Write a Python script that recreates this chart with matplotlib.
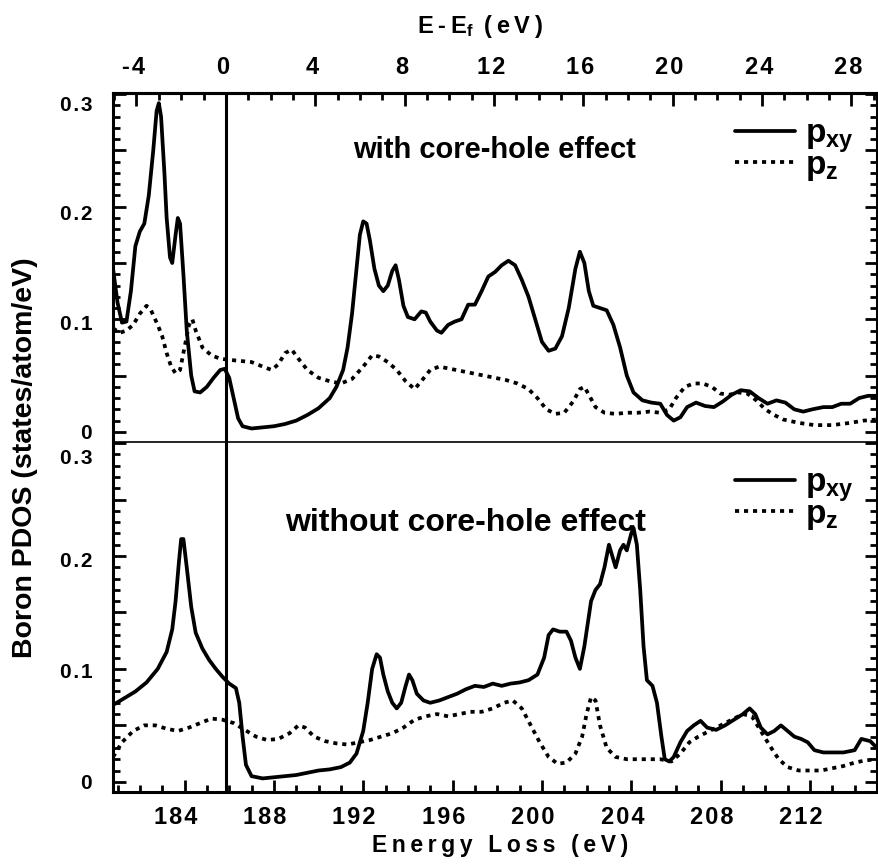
import matplotlib
matplotlib.use("Agg")
import matplotlib.pyplot as plt
from matplotlib.ticker import MultipleLocator, FixedLocator, FuncFormatter
from matplotlib.transforms import ScaledTranslation
from matplotlib.lines import Line2D

plt.rcParams['font.family'] = ['Liberation Sans', 'DejaVu Sans']
plt.rcParams['font.weight'] = 'bold'
plt.rcParams['axes.labelweight'] = 'bold'
plt.rcParams['mathtext.fontset'] = 'custom'
plt.rcParams['mathtext.rm'] = 'Liberation Sans:bold'
plt.rcParams['mathtext.bf'] = 'Liberation Sans:bold'
plt.rcParams['mathtext.it'] = 'Liberation Sans:bold'

# Fermi level position on the energy-loss scale
E_FERMI = 185.85

# with core-hole effect, p_xy
top_pxy_x = [180.8, 181.0, 181.2, 181.4, 181.6, 181.8, 182.0, 182.2, 182.4, 182.6, 182.75, 182.85, 182.95,
             183.1, 183.2, 183.35, 183.45, 183.6, 183.7, 183.8, 183.95, 184.1, 184.3, 184.45, 184.7, 185.0,
             185.3, 185.6, 185.8, 186.0, 186.2, 186.4, 186.6, 187.0, 187.5, 188.0, 188.5, 189.0, 189.5,
             190.0, 190.5, 190.8, 191.1, 191.3, 191.5, 191.7, 191.85, 192.0, 192.15, 192.3, 192.5, 192.7,
             192.9, 193.1, 193.3, 193.45, 193.6, 193.8, 194.0, 194.3, 194.6, 194.8, 195.0, 195.3, 195.5,
             195.8, 196.1, 196.4, 196.7, 197.0, 197.3, 197.6, 197.9, 198.2, 198.5, 198.8, 199.1, 199.4,
             199.7, 200.0, 200.3, 200.6, 200.9, 201.2, 201.5, 201.7, 201.9, 202.1, 202.3, 202.6, 202.9,
             203.2, 203.5, 203.8, 204.1, 204.5, 204.9, 205.3, 205.6, 205.9, 206.2, 206.5, 206.9, 207.3,
             207.7, 208.1, 208.5, 208.9, 209.3, 209.7, 210.1, 210.5, 210.9, 211.3, 211.7, 212.1, 212.6,
             213.0, 213.4, 213.8, 214.2, 214.6, 215.0]
top_pxy_y = [0.145, 0.115, 0.097, 0.098, 0.125, 0.165, 0.178, 0.185, 0.21, 0.25, 0.285, 0.292, 0.28,
             0.23, 0.19, 0.155, 0.15, 0.175, 0.19, 0.185, 0.14, 0.09, 0.05, 0.036, 0.035, 0.04,
             0.048, 0.055, 0.056, 0.048, 0.03, 0.012, 0.005, 0.003, 0.004, 0.005, 0.007, 0.01, 0.015,
             0.021, 0.03, 0.04, 0.055, 0.075, 0.105, 0.145, 0.175, 0.187, 0.185, 0.17, 0.145, 0.13,
             0.125, 0.13, 0.143, 0.148, 0.135, 0.112, 0.102, 0.1, 0.107, 0.106, 0.098, 0.09, 0.088,
             0.095, 0.098, 0.1, 0.113, 0.113, 0.125, 0.138, 0.142, 0.148, 0.152, 0.148, 0.135, 0.12,
             0.1, 0.08, 0.072, 0.074, 0.085, 0.11, 0.145, 0.16, 0.15, 0.125, 0.112, 0.11, 0.108,
             0.095, 0.075, 0.05, 0.035, 0.028, 0.026, 0.025, 0.015, 0.01, 0.013, 0.022, 0.026, 0.023,
             0.022, 0.027, 0.033, 0.037, 0.036, 0.03, 0.025, 0.028, 0.026, 0.02, 0.018, 0.02, 0.022,
             0.022, 0.025, 0.025, 0.03, 0.032, 0.032]

# with core-hole effect, p_z
top_pz_x = [180.8, 181.1, 181.4, 181.7, 182.0, 182.3, 182.5, 182.8, 183.0, 183.2, 183.4, 183.6, 183.8,
            184.0, 184.2, 184.35, 184.5, 184.8, 185.2, 185.6, 186.0, 186.5, 187.0, 187.5, 187.9, 188.2,
            188.5, 188.8, 189.1, 189.5, 190.0, 190.5, 191.0, 191.5, 192.0, 192.4, 192.7, 193.1, 193.5,
            193.9, 194.3, 194.6, 195.0, 195.4, 195.9, 196.4, 196.9, 197.4, 197.9, 198.4, 198.9, 199.4,
            199.8, 200.2, 200.6, 201.0, 201.4, 201.7, 201.9, 202.1, 202.4, 202.8, 203.3, 203.8, 204.3,
            204.8, 205.3, 205.7, 206.0, 206.4, 206.8, 207.2, 207.6, 208.0, 208.4, 208.8, 209.2, 209.6,
            210.0, 210.4, 210.8, 211.5, 212.2, 213.0, 213.8, 214.4, 215.0]
top_pz_y = [0.092, 0.088, 0.09, 0.095, 0.105, 0.112, 0.108, 0.095, 0.085, 0.07, 0.058, 0.052, 0.055,
            0.075, 0.095, 0.1, 0.09, 0.075, 0.068, 0.065, 0.064, 0.063, 0.062, 0.058, 0.055, 0.06,
            0.07, 0.073, 0.065, 0.055, 0.048, 0.045, 0.043, 0.047, 0.058, 0.068, 0.067, 0.062, 0.055,
            0.045, 0.038, 0.045, 0.055, 0.058, 0.056, 0.054, 0.052, 0.05, 0.048, 0.046, 0.043, 0.038,
            0.03, 0.02, 0.016, 0.017, 0.027, 0.038, 0.04, 0.033, 0.022, 0.017, 0.016, 0.017, 0.017,
            0.018, 0.017, 0.02, 0.03, 0.04, 0.043, 0.043, 0.04, 0.034, 0.033, 0.035, 0.034, 0.028,
            0.02, 0.015, 0.011, 0.008, 0.006, 0.006, 0.008, 0.01, 0.011]

# without core-hole effect, p_xy
bot_pxy_x = [180.8, 181.3, 181.8, 182.3, 182.8, 183.2, 183.45, 183.6, 183.75, 183.85, 183.95, 184.1, 184.3,
             184.5, 184.8, 185.1, 185.4, 185.7, 186.0, 186.3, 186.45, 186.6, 186.75, 187.0, 187.5, 188.0,
             188.5, 189.0, 189.5, 190.0, 190.5, 191.0, 191.4, 191.7, 192.0, 192.2, 192.4, 192.6, 192.75,
             192.9, 193.1, 193.3, 193.5, 193.7, 193.9, 194.05, 194.2, 194.4, 194.7, 195.0, 195.4, 195.8,
             196.2, 196.6, 197.0, 197.4, 197.8, 198.2, 198.6, 199.0, 199.4, 199.8, 200.1, 200.3, 200.5,
             200.8, 201.1, 201.3, 201.5, 201.7, 201.9, 202.2, 202.4, 202.6, 202.8, 203.0, 203.15, 203.3,
             203.5, 203.65, 203.8, 204.0, 204.1, 204.25, 204.4, 204.55, 204.7, 204.95, 205.15, 205.35,
             205.5, 205.7, 205.9, 206.2, 206.5, 206.8, 207.1, 207.4, 207.8, 208.2, 208.6, 209.0, 209.3,
             209.55, 209.8, 210.1, 210.4, 210.7, 211.0, 211.3, 211.6, 211.9, 212.2, 212.6, 213.0, 213.5,
             214.0, 214.3, 214.7, 215.0]
bot_pxy_y = [0.068, 0.074, 0.08, 0.088, 0.1, 0.115, 0.135, 0.16, 0.195, 0.215, 0.215, 0.19, 0.155,
             0.132, 0.118, 0.108, 0.1, 0.093, 0.087, 0.083, 0.07, 0.04, 0.015, 0.005, 0.003, 0.004,
             0.005, 0.006, 0.008, 0.01, 0.011, 0.013, 0.017, 0.025, 0.045, 0.07, 0.1, 0.113, 0.11,
             0.095, 0.08, 0.07, 0.065, 0.07, 0.085, 0.095, 0.09, 0.078, 0.072, 0.07, 0.072, 0.075,
             0.078, 0.082, 0.085, 0.084, 0.087, 0.085, 0.087, 0.088, 0.09, 0.095, 0.11, 0.13, 0.135,
             0.133, 0.133, 0.125, 0.11, 0.1, 0.12, 0.16, 0.17, 0.175, 0.19, 0.21, 0.2, 0.19,
             0.205, 0.21, 0.205, 0.22, 0.225, 0.21, 0.17, 0.12, 0.09, 0.085, 0.07, 0.04,
             0.02, 0.018, 0.022, 0.035, 0.045, 0.05, 0.054, 0.048, 0.046, 0.05, 0.055, 0.06, 0.065,
             0.06, 0.048, 0.042, 0.045, 0.05, 0.045, 0.04, 0.038, 0.035, 0.028, 0.026, 0.026, 0.026,
             0.028, 0.038, 0.036, 0.03]

# without core-hole effect, p_z
bot_pz_x = [180.8, 181.2, 181.7, 182.2, 182.7, 183.2, 183.7, 184.2, 184.7, 185.2, 185.7, 186.2, 186.7,
            187.2, 187.7, 188.2, 188.7, 189.1, 189.4, 189.8, 190.3, 190.8, 191.3, 191.8, 192.3, 192.8,
            193.3, 193.8, 194.3, 194.8, 195.3, 195.8, 196.3, 196.8, 197.3, 197.8, 198.3, 198.7, 199.1,
            199.5, 199.9, 200.3, 200.7, 201.1, 201.5, 201.8, 202.0, 202.2, 202.4, 202.6, 202.9, 203.3,
            203.8, 204.3, 204.8, 205.3, 205.8, 206.2, 206.6, 207.0, 207.5, 208.0, 208.5, 209.0, 209.4,
            209.8, 210.2, 210.6, 211.0, 211.5, 212.0, 212.5, 213.0, 213.5, 214.0, 214.5, 215.0]
bot_pz_y = [0.022, 0.035, 0.045, 0.05, 0.05, 0.047, 0.045, 0.048, 0.052, 0.056, 0.055, 0.052, 0.046,
            0.04, 0.037, 0.038, 0.043, 0.05, 0.048, 0.04, 0.036, 0.034, 0.033, 0.035, 0.037, 0.04,
            0.043, 0.048, 0.055, 0.058, 0.06, 0.058, 0.06, 0.062, 0.062, 0.065, 0.07, 0.072, 0.065,
            0.05, 0.035, 0.022, 0.016, 0.017, 0.025, 0.04, 0.06, 0.075, 0.072, 0.05, 0.03, 0.022,
            0.02, 0.02, 0.02, 0.02, 0.018, 0.025, 0.035, 0.04, 0.045, 0.05, 0.055, 0.06, 0.058,
            0.045, 0.032, 0.02, 0.013, 0.01, 0.01, 0.01, 0.012, 0.014, 0.017, 0.019, 0.02]

panel_titles = ['with core-hole effect', 'without core-hole effect']
legend_labels = [r'$\mathbf{p}_{\mathbf{xy}}$', r'$\mathbf{p}_{\mathbf{z}}$']
y_ticks = [0.0, 0.05, 0.1, 0.15, 0.2, 0.25, 0.3]
loss_ticks = [184, 188, 192, 196, 200, 204, 208, 212]
ef_ticks = [-4, 0, 4, 8, 12, 16, 20, 24, 28]

XLIM = (180.8, 215.0)
YLIM = (-0.009, 0.301)


def spaced(s, sep='\u2009'):
    # wide letter spacing like the original figure
    return sep.join(s)


def x_fmt(v, pos):
    return spaced('%d' % round(v), '\u200a')


def y_fmt(v, pos):
    k = round(v * 100)
    if k % 10 != 0:
        return ''
    if k == 0:
        return '0'
    return spaced('%.1f' % v, '\u200a')


def nudge(text, fig, dx_px, dy_px):
    # move a tick label by some pixels (positive dy = down)
    off = ScaledTranslation(dx_px / fig.dpi, -dy_px / fig.dpi, fig.dpi_scale_trans)
    text.set_transform(text.get_transform() + off)


fig = plt.figure(figsize=(8.79, 8.66), dpi=100)
left, right = 0.1286, 0.9977
ax_top = fig.add_axes([left, 0.4896, right - left, 0.8926 - 0.4896])
ax_bot = fig.add_axes([left, 0.0855, right - left, 0.4896 - 0.0855])

solid_kw = dict(color='black', lw=2.7, solid_capstyle='round', solid_joinstyle='round')
dot_kw = dict(color='black', lw=2.7, linestyle=(0, (1.1, 1.3)), dash_capstyle='butt')

ax_top.plot(top_pxy_x, top_pxy_y, **solid_kw)
ax_top.plot(top_pz_x, top_pz_y, **dot_kw)
ax_bot.plot(bot_pxy_x, bot_pxy_y, **solid_kw)
ax_bot.plot(bot_pz_x, bot_pz_y, **dot_kw)

for ax, title, ty, tx, fs in [(ax_top, panel_titles[0], 0.25, 197.9, 21),
                              (ax_bot, panel_titles[1], 0.229, 196.6, 23)]:
    ax.set_xlim(*XLIM)
    ax.set_ylim(*YLIM)
    ax.axvline(E_FERMI, color='black', lw=2.2)
    ax.text(tx, ty, title, fontsize=fs, fontweight='bold', ha='center', va='center')
    ax.yaxis.set_major_locator(FixedLocator(y_ticks))
    ax.yaxis.set_minor_locator(MultipleLocator(0.01))
    ax.yaxis.set_major_formatter(FuncFormatter(y_fmt))
    ax.xaxis.set_major_locator(FixedLocator(loss_ticks))
    ax.xaxis.set_minor_locator(MultipleLocator(1))
    ax.tick_params(axis='y', which='both', direction='in', left=True, right=True,
                   labelsize=15, pad=15, width=2)
    ax.tick_params(axis='y', which='major', length=9)
    ax.tick_params(axis='y', which='minor', length=5)
    for s in ax.spines.values():
        s.set_linewidth(2.2)
    handles = [Line2D([], [], **solid_kw), Line2D([], [], **dot_kw)]
    ax.legend(handles, legend_labels, loc='upper right', bbox_to_anchor=(0.995, 0.985),
              frameon=False, fontsize=24, handlelength=1.8, handletextpad=0.3,
              labelspacing=-0.15, borderaxespad=0.2)

# top panel: no bottom ticks, secondary E-Ef axis on top
ax_top.spines['bottom'].set_visible(False)
ax_top.tick_params(axis='x', which='both', bottom=False, top=False, labelbottom=False)
sec = ax_top.secondary_xaxis('top', functions=(lambda e: e - E_FERMI, lambda e: e + E_FERMI))
sec.xaxis.set_major_locator(FixedLocator(ef_ticks))
sec.xaxis.set_minor_locator(MultipleLocator(1))
sec.xaxis.set_major_formatter(FuncFormatter(x_fmt))
sec.tick_params(which='both', direction='in', width=2, labelsize=17, pad=10)
sec.tick_params(which='major', length=9)
sec.tick_params(which='minor', length=5)
sec.spines['top'].set_linewidth(2.2)
sec.set_xlabel(spaced('E-E') + r'$_{\mathbf{f}}$' + spaced(' (eV)'), fontsize=17,
               fontweight='bold', labelpad=17)
sec.xaxis.label.set_x(0.48)

# bottom panel
ax_bot.spines['top'].set_linewidth(1.2)
ax_bot.xaxis.set_major_formatter(FuncFormatter(x_fmt))
ax_bot.tick_params(axis='x', which='both', direction='in', bottom=True, top=False,
                   labelsize=17, pad=10, width=2)
ax_bot.tick_params(axis='x', which='major', length=9)
ax_bot.tick_params(axis='x', which='minor', length=5)
ax_bot.set_xlabel(spaced('Energy Loss (eV)'), fontsize=16.5, fontweight='bold', labelpad=4)
ax_bot.xaxis.label.set_x(0.507)

fig.text(0.028, 0.471, 'Boron PDOS (states/atom/eV)', rotation=90, fontsize=20.5,
         fontweight='bold', ha='center', va='center')

# label placement quirks of the original: x labels sit a bit left of their ticks,
# y labels drift slightly downward
fig.canvas.draw()
for t in ax_bot.xaxis.get_major_ticks():
    nudge(t.label1, fig, -9, 0)
for t in sec.xaxis.get_major_ticks():
    nudge(t.label2, fig, -3, 0)
y_shift = {ax_top: {0.1: 3, 0.2: 6, 0.3: 9}, ax_bot: {0.1: 2, 0.2: 3, 0.3: 13}}
for ax in (ax_top, ax_bot):
    for loc, t in zip(ax.yaxis.get_majorticklocs(), ax.yaxis.get_major_ticks()):
        dy = y_shift[ax].get(round(loc, 2), 0)
        if dy:
            nudge(t.label1, fig, 0, dy)

fig.savefig('out.png', dpi=100)
